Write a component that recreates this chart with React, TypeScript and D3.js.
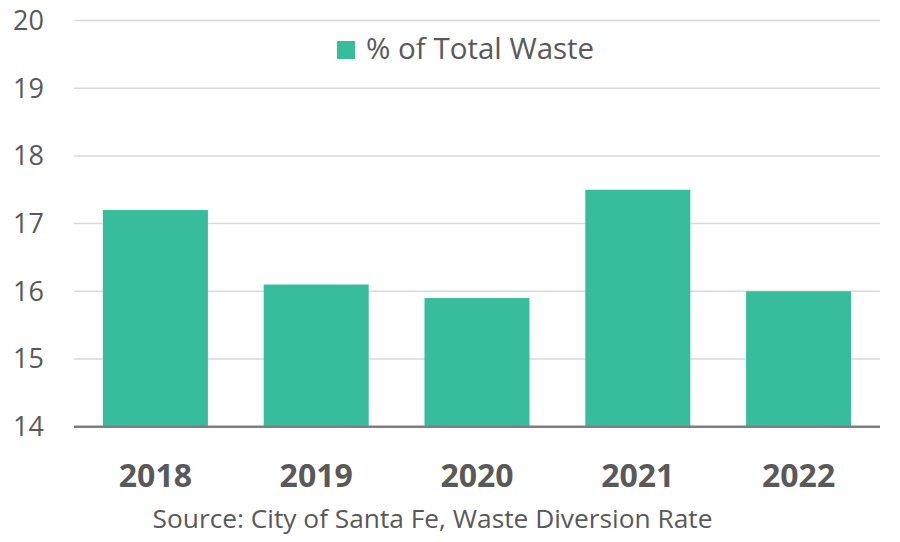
import React from "react";
import * as d3 from "d3";

const years = ["2018", "2019", "2020", "2021", "2022"];
const values = [17.2, 16.1, 15.9, 17.5, 16.0];
const yTicks = [14, 15, 16, 17, 18, 19, 20];
const seriesName = "% of Total Waste";
const sourceText = "Source: City of Santa Fe, Waste Diversion Rate";

const W = 900;
const H = 542;
const FONT = "'Open Sans', sans-serif";
const TEXT = "#595959";
const BAR = "#37BD9B";

export default function App() {
  const x = d3.scaleBand<string>().domain(years).range([75, 879]).paddingInner(0.347).paddingOuter(0.1735);
  const y = d3.scaleLinear().domain([14, 20]).range([426.7, 20.5]);
  return (
    <svg width={W} height={H} style={{ position: "absolute", left: 0, top: 0, background: "#fff" }}>
      {yTicks.filter((t) => t !== 14).map((t) => (
        <line key={t} x1={74} x2={880} y1={y(t)} y2={y(t)} stroke="#D9D9D9" strokeWidth={1.5} />
      ))}
      {yTicks.map((t) => (
        <text key={"l" + t} x={44} y={y(t)} dy="0.35em" textAnchor="end" fontFamily={FONT} fontSize={27} fill={TEXT}>
          {t}
        </text>
      ))}
      {years.map((yr, i) => (
        <rect key={yr} x={x(yr)} width={x.bandwidth()} y={y(values[i])} height={y(14) - y(values[i])} fill={BAR} />
      ))}
      <line x1={74} x2={880} y1={y(14)} y2={y(14)} stroke="#7F7F7F" strokeWidth={2.5} />
      {years.map((yr) => (
        <text key={"x" + yr} x={(x(yr) as number) + x.bandwidth() / 2} y={487} textAnchor="middle" fontFamily={FONT} fontWeight="bold" fontSize={32} fill={TEXT}>
          {yr}
        </text>
      ))}
      <rect x={337} y={41} width={18} height={18} fill={BAR} />
      <text x={366} y={59} fontFamily={FONT} fontSize={29.5} fill={TEXT}>{seriesName}</text>
      <text x={432.5} y={528} textAnchor="middle" fontFamily={FONT} fontSize={26.3} fill={TEXT}>{sourceText}</text>
    </svg>
  );
}
